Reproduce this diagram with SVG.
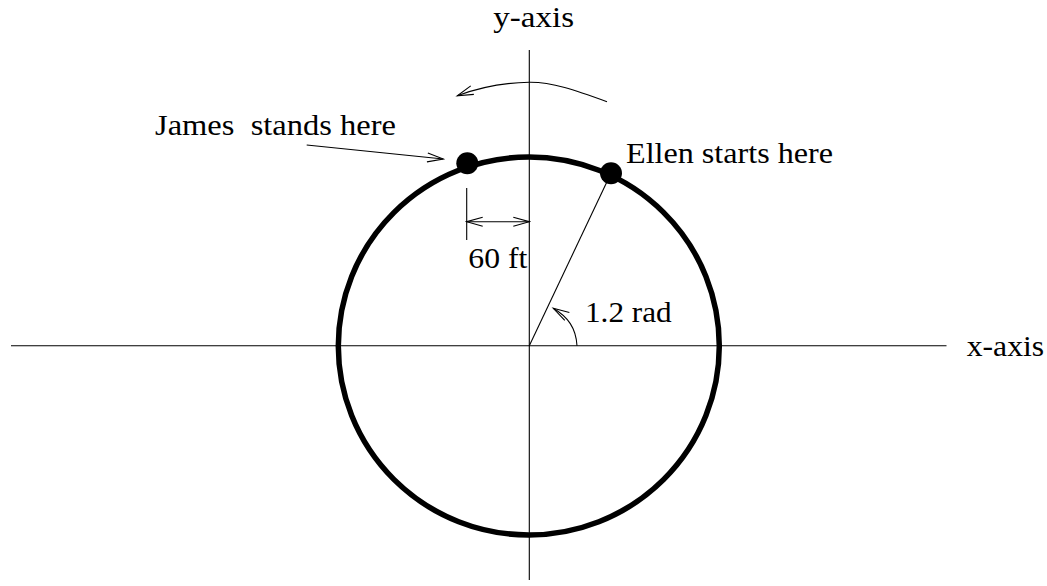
<svg xmlns="http://www.w3.org/2000/svg" width="1047" height="586" viewBox="0 0 1047 586">
<style>
.thin{fill:none;stroke:#000;stroke-width:1.1}
.lbl{font-family:"Liberation Serif","Times New Roman",serif;font-size:30px;fill:#000}
</style>
<defs>
<marker id="ah" markerUnits="userSpaceOnUse" markerWidth="20" markerHeight="12" viewBox="-17 -6 18 12" refX="0" refY="0" orient="auto">
<path d="M -16 -4.5 L 0 0 L -16 4.5" fill="none" stroke="#000" stroke-width="1.1"/>
</marker>
<marker id="ahs" markerUnits="userSpaceOnUse" markerWidth="20" markerHeight="12" viewBox="-17 -6 18 12" refX="0" refY="0" orient="auto-start-reverse">
<path d="M -16 -4.5 L 0 0 L -16 4.5" fill="none" stroke="#000" stroke-width="1.1"/>
</marker>
</defs>
<rect width="1047" height="586" fill="#fff"/>
<g id="axes">
<line class="thin" x1="11" y1="345.7" x2="946.5" y2="345.7"/>
<line class="thin" x1="529.3" y1="50" x2="529.3" y2="580"/>
<text class="lbl" x="493.3" y="26.7" textLength="80.7" lengthAdjust="spacingAndGlyphs">y-axis</text>
<text class="lbl" x="966.7" y="355.7" textLength="77.5" lengthAdjust="spacingAndGlyphs">x-axis</text>
</g>
<g id="circle">
<ellipse cx="528.8" cy="346" rx="190.5" ry="189" fill="none" stroke="#000" stroke-width="5.5"/>
</g>
<g id="james">
<circle cx="467.3" cy="163.3" r="11" fill="#000"/>
<text class="lbl" x="155" y="135" xml:space="preserve" textLength="241" lengthAdjust="spacingAndGlyphs">James  stands here</text>
</g>
<g id="ellen">
<circle cx="611" cy="173.3" r="11" fill="#000"/>
<text class="lbl" x="626" y="163.3" textLength="207" lengthAdjust="spacingAndGlyphs">Ellen starts here</text>
</g>
<g id="dim60">
<line class="thin" x1="466.7" y1="188" x2="466.7" y2="240"/>
<text class="lbl" x="468.3" y="268.3" textLength="59" lengthAdjust="spacingAndGlyphs">60 ft</text>
</g>
<g id="angle">
<text class="lbl" x="585" y="321.7" textLength="86.7" lengthAdjust="spacingAndGlyphs">1.2 rad</text>
</g>
<g id="connectors">
<path class="thin" d="M 607 101.7 C 575 90 552 82 529.3 82.3 C 502 82.6 478 88 457.3 95.7" marker-end="url(#ah)"/>
<line class="thin" x1="306.7" y1="145" x2="443.3" y2="159" marker-end="url(#ah)"/>
<line class="thin" x1="466.7" y1="221.7" x2="529.3" y2="221.7" marker-start="url(#ahs)" marker-end="url(#ah)"/>
<line class="thin" x1="529.3" y1="345.7" x2="611" y2="173.3"/>
<path class="thin" d="M 577 345.7 C 576 328 568 317 553.3 308.3" marker-end="url(#ah)"/>
</g>
</svg>
